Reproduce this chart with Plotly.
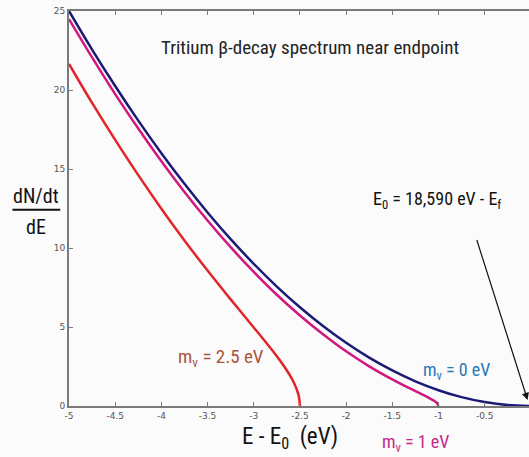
import plotly.graph_objects as go

# Energy relative to endpoint, E - E0 (eV)
x_m0 = [-5.0, -4.75, -4.5, -4.25, -4.0, -3.75, -3.5, -3.25, -3.0, -2.75, -2.5,
        -2.25, -2.0, -1.75, -1.5, -1.25, -1.0, -0.75, -0.5, -0.25, 0.0]
y_m0 = [25.0, 22.56, 20.25, 18.06, 16.0, 14.06, 12.25, 10.56, 9.0, 7.56, 6.25,
        5.06, 4.0, 3.06, 2.25, 1.56, 1.0, 0.56, 0.25, 0.06, 0.0]

x_m1 = [-5.0, -4.75, -4.5, -4.25, -4.0, -3.75, -3.5, -3.25, -3.0, -2.75, -2.5,
        -2.25, -2.0, -1.75, -1.5, -1.375, -1.25, -1.15, -1.1, -1.05, -1.02, -1.0]
y_m1 = [24.49, 22.06, 19.74, 17.56, 15.49, 13.55, 11.74, 10.05, 8.49, 7.04, 5.73,
        4.54, 3.46, 2.51, 1.68, 1.30, 0.94, 0.65, 0.50, 0.34, 0.21, 0.0]

x_m25 = [-5.0, -4.75, -4.5, -4.25, -4.0, -3.75, -3.5, -3.25, -3.0, -2.9, -2.8,
         -2.75, -2.7, -2.65, -2.6, -2.56, -2.53, -2.51, -2.5]
y_m25 = [21.65, 19.18, 16.84, 14.61, 12.49, 10.48, 8.57, 6.75, 4.97, 4.26, 3.53,
         3.15, 2.75, 2.33, 1.86, 1.41, 0.98, 0.56, 0.0]

x_ticks = [-5, -4.5, -4, -3.5, -3, -2.5, -2, -1.5, -1, -0.5]
x_tick_text = ["-5", "-4.5", "-4", "-3.5", "-3", "-2.5", "-2", "-1.5", "-1", "-0.5"]
y_ticks = [0, 5, 10, 15, 20, 25]
y_tick_text = ["0", "5", "10", "15", "20", "25"]

FONT = "Liberation Sans Narrow, Roboto Condensed, Arial Narrow, sans-serif"

fig = go.Figure()
fig.add_trace(go.Scatter(x=x_m25, y=y_m25, mode="lines", line=dict(color="#e2242b", width=2.5, shape="spline"), showlegend=False))
fig.add_trace(go.Scatter(x=x_m1, y=y_m1, mode="lines", line=dict(color="#d3177f", width=2.5, shape="spline"), showlegend=False))
fig.add_trace(go.Scatter(x=x_m0, y=y_m0, mode="lines", line=dict(color="#1b1b76", width=2.5, shape="spline"), showlegend=False))

def txt(x, y, text, size, color):
    return dict(x=x, y=y, xref="paper", yref="paper", xanchor="center", yanchor="middle",
                text=text, showarrow=False, font=dict(family=FONT, size=size, color=color))

ann = [
    txt(0.523, 0.907, "Tritium β-decay spectrum near endpoint", 19, "#222222"),
    txt(0.330, 0.122, "m<sub>ν</sub> = 2.5 eV", 19, "#a8553a"),
    txt(0.843, 0.089, "m<sub>ν</sub> = 0 eV", 18, "#2878b8"),
    txt(0.754, -0.094, "m<sub>ν</sub> = 1 eV", 18, "#c42a8c"),
    txt(0.800, 0.522, "E<sub>0</sub> = 18,590 eV - E<sub>f</sub>", 18, "#111111"),
    txt(0.480, -0.080, "E - E<sub>0</sub>  (eV)", 23, "#111111"),
    txt(-0.072, 0.532, "dN/dt", 20, "#111111"),
    txt(-0.072, 0.452, "dE", 20, "#111111"),
    dict(x=-0.035, y=0.38, xref="x", yref="y", ax=-0.59, ay=10.6, axref="x", ayref="y",
         text="", showarrow=True, arrowhead=2, arrowsize=1.2, arrowwidth=1.2, arrowcolor="#111111"),
]

fig.update_layout(
    width=529, height=457,
    margin=dict(l=69, r=0, t=11, b=51),
    paper_bgcolor="#fbfbfb", plot_bgcolor="#fbfbfb",
    annotations=ann,
    shapes=[dict(type="line", xref="paper", yref="paper", x0=-0.123, x1=-0.019, y0=0.497, y1=0.497,
                 line=dict(color="#111111", width=2))],
    xaxis=dict(range=[-5, -0.02], tickvals=x_ticks, ticktext=x_tick_text, showgrid=False, zeroline=False,
               showline=True, linecolor="#7a7a7a", linewidth=2, mirror="ticks", ticks="inside", ticklen=4,
               tickcolor="#7a7a7a", tickfont=dict(family="DejaVu Sans", size=9, color="#555555")),
    yaxis=dict(range=[0, 25], tickvals=y_ticks, ticktext=y_tick_text, showgrid=False, zeroline=False,
               showline=True, linecolor="#7a7a7a", linewidth=2, ticks="inside", ticklen=4,
               tickcolor="#7a7a7a", tickfont=dict(family="DejaVu Sans", size=9, color="#555555")),
)

fig.write_html("out.html")
